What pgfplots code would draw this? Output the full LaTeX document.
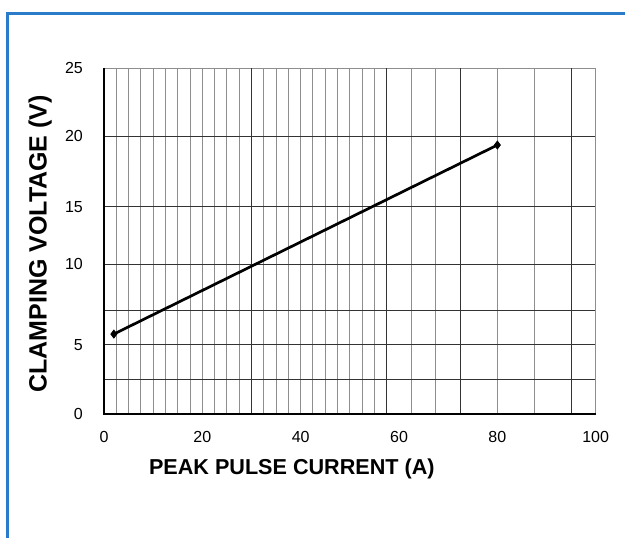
\documentclass[border=0pt]{standalone}
\usepackage{pgfplots}
\pgfplotsset{compat=1.18}
\usepackage{fontspec}
\setmainfont{Liberation Sans}
\definecolor{frameblue}{HTML}{2A7CCB}
\definecolor{gridgray}{HTML}{8E8E8E}
\definecolor{griddark}{HTML}{333333}

\begin{document}
\begin{tikzpicture}
  \useasboundingbox (0pt,0pt) rectangle (625pt,538pt);
  \fill[white] (0pt,0pt) rectangle (625pt,538pt);
  % blue frame (top and left only)
  \draw[frameblue, line width=3pt] (7pt,0pt) -- (7pt,524.5pt) -- (625pt,524.5pt);
  \begin{axis}[
      at={(104pt,124pt)}, anchor=south west,
      scale only axis, width=491.7pt, height=345.7pt,
      xmin=0, xmax=100, ymin=0, ymax=25,
      clip=false,
      /pgf/number format/assume math mode=true,
      axis line style={gridgray, line width=1pt},
      major tick length=0pt, minor tick length=0pt,
      xtick={0,20,40,60,80,100},
      xticklabels={0,20,40,60,80,100},
      ytick={0,5,10.82,15,20.1},
      yticklabels={0,5,10,15,20},
      minor xtick={2.5,5,7.5,10,12.5,15,17.5,20,22.5,25,27.5,32.5,35,37.5,40,42.5,45,47.5,50,52.5,55,62.5,67.5,80,87.5,100},
      minor ytick={2.51,7.47},
      xminorgrids=true, xmajorgrids=false,
      ymajorgrids=true, yminorgrids=true,
      minor x grid style={gridgray, line width=1pt},
      major y grid style={griddark, line width=1pt},
      minor y grid style={griddark, line width=1pt},
      extra x ticks={30,57.5,72.5,95},
      extra x tick labels={},
      extra x tick style={grid=major, major grid style={griddark, line width=1pt}},
      extra y ticks={25},
      extra y tick labels={25},
      extra y tick style={grid=none},
      xticklabel style={font=\fontsize{16}{16}\selectfont, inner sep=0pt, anchor=north, yshift=-17.3pt},
      yticklabel style={font=\fontsize{16}{16}\selectfont, inner sep=0pt, anchor=east, xshift=-21pt},
      xlabel={PEAK PULSE CURRENT (A)},
      ylabel={CLAMPING VOLTAGE (V)},
      xlabel style={font=\bfseries\fontsize{21.6}{22}\selectfont, inner sep=0pt,
        at={(axis description cs:0.382,-0.1736)}, anchor=base},
      ylabel style={font=\bfseries\fontsize{25}{25}\selectfont, inner sep=0pt,
        at={(axis description cs:-0.1165,0.4918)}, anchor=base},
    ]
    \addplot[black, line width=2.7pt, mark=diamond*, mark size=4pt,
      mark options={solid, line width=0.8pt}]
      coordinates {(2,5.78) (80,19.45)};
    \draw[black, line width=2.2pt] (rel axis cs:0,1) -- (rel axis cs:0,0) -- (rel axis cs:1,0);
  \end{axis}
\end{tikzpicture}
\end{document}
